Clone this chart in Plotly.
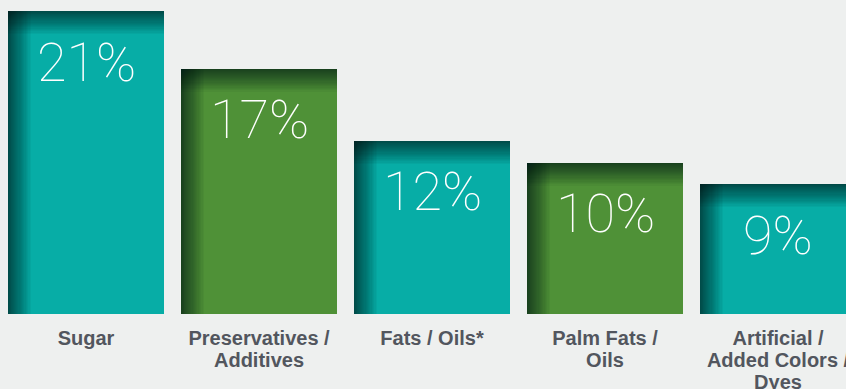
import plotly.graph_objects as go

categories = ["Sugar", "Preservatives /<br>Additives", "Fats / Oils*", "Palm Fats /<br>Oils",
              "Artificial /<br>Added Colors /<br>Dyes"]
values = [21, 17, 12, 10.5, 9]
value_labels = ["21%", "17%", "12%", "10%", "9%"]
bar_colors = ["#07ada6", "#4f9137", "#07ada6", "#4f9137", "#07ada6"]

W, H = 846, 389
MB = 75
plot_h = H - MB
slot_px = 173.0
first_center_px = 86.0
bar_w = 156.0 / slot_px
ymax = 21 * plot_h / 303.0
dx = 1.0 / slot_px
dy = ymax / plot_h

x = list(range(len(categories)))

fig = go.Figure()
fig.add_trace(go.Bar(x=x, y=values, width=bar_w, marker=dict(color=bar_colors, line=dict(width=0)),
                     hoverinfo="skip", showlegend=False))

N = 22
shade = "rgba(0,22,18,0.042)"
for k in range(1, N + 1):
    d = 23 * (k / N) ** 1.3
    # top inner shadow
    fig.add_trace(go.Bar(x=x, y=[d * dy] * len(x), base=[v - d * dy for v in values], width=bar_w,
                         marker=dict(color=shade, line=dict(width=0)),
                         hoverinfo="skip", showlegend=False))
    # left inner shadow
    fig.add_trace(go.Bar(x=x, y=values, width=d * dx, offset=-bar_w / 2,
                         marker=dict(color=shade, line=dict(width=0)),
                         hoverinfo="skip", showlegend=False))

for xi, v, lab in zip(x, values, value_labels):
    fig.add_annotation(x=xi, y=v, text=lab, showarrow=False, yanchor="middle", yshift=-51,
                       font=dict(family="Roboto", size=54, color="white", weight=100))

# category labels: one axis per text line so the line spacing matches
lines = [c.split("<br>") for c in categories]
n_lines = max(len(l) for l in lines)
xr = [-first_center_px / slot_px, (W - first_center_px) / slot_px]
tick_font = dict(family="Liberation Sans", size=20, color="#52565e", weight="bold")
axis_common = dict(tickmode="array", tickvals=x, range=xr, showgrid=False, zeroline=False,
                   showline=False, automargin=False, ticks="outside", tickcolor="rgba(0,0,0,0)",
                   ticklabeloverflow="allow", tickfont=tick_font)
layout_axes = {}
for i in range(n_lines):
    texts = [l[i] if i < len(l) else "" for l in lines]
    name = "xaxis" if i == 0 else f"xaxis{i + 1}"
    ax = dict(axis_common, ticktext=texts, ticklen=6 + 22 * i)
    if i > 0:
        ax.update(overlaying="x", anchor="y", side="bottom")
        # invisible carrier trace so the extra label axis is drawn
        fig.add_trace(go.Scatter(x=x, y=[0] * len(x), xaxis=f"x{i + 1}", yaxis="y", mode="markers",
                                 marker=dict(size=1, opacity=0), hoverinfo="skip", showlegend=False))
    layout_axes[name] = ax

fig.update_layout(
    template="none",
    width=W, height=H,
    margin=dict(l=0, r=0, t=0, b=MB, pad=0),
    paper_bgcolor="#eef0ef", plot_bgcolor="#eef0ef",
    barmode="overlay", bargap=0,
    yaxis=dict(range=[0, ymax], visible=False, automargin=False),
    **layout_axes,
)

fig.write_html("out.html")
